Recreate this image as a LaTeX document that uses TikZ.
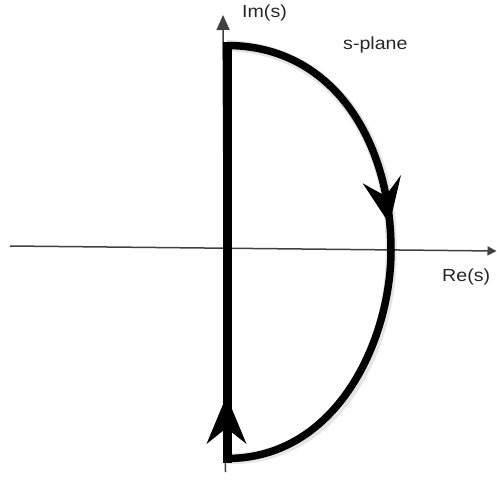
\documentclass[tikz,border=0pt]{standalone}
\usepackage{fontspec}
\setmainfont{Liberation Sans}[FakeStretch=1.12]
\usetikzlibrary{arrows.meta}
\begin{document}
\begin{tikzpicture}[x=1pt,y=-1pt,
  axis/.style={line width=1.5pt, black!75},
  contour/.style={line width=7.5pt, black},
  riser/.style={line width=9pt, black},
  shade/.style={line width=11pt, black, opacity=0.10},
  head/.style={fill=black, draw=none},
  lbl/.style={font=\fontsize{17.5}{20}\selectfont, text=black!85, inner sep=0pt, anchor=base west}]
\useasboundingbox (0,0) rectangle (497,481);
% axes
\coordinate (xl) at (10,246);
\coordinate (xr) at (496.5,251);
\coordinate (yb) at (225.5,472);
\coordinate (yt) at (223,15);
\draw[axis, -{Triangle[length=9pt,width=9pt]}] (xl) -- (xr);
\draw[axis, -{Triangle[length=15pt,width=13pt]}] (yb) -- (yt);
% contour
\coordinate (top) at (227,45.5);
\coordinate (rgt) at (391,250);
\coordinate (bot) at (227,458.5);
\coordinate (rtop) at (227,41.75);
\coordinate (rbot) at (227,462.5);
\draw[shade, shift={(2,3)}] (top) .. controls (332,45.5) and (391,140) .. (rgt)
      .. controls (391,340) and (337,458.5) .. (bot);
\draw[contour] (top) .. controls (332,45.5) and (391,140) .. (rgt)
      .. controls (391,340) and (337,458.5) .. (bot);
\draw[riser] (rtop) -- (rbot);
% arrowheads
\coordinate (at1) at (389.5,224);
\coordinate (al1) at (362.7,183.3);
\coordinate (an1) at (385.5,196);
\coordinate (ar1) at (401,175);
\fill[head] (at1) -- (al1) -- (an1) -- (ar1) -- cycle;
\coordinate (at2) at (226.5,396);
\coordinate (al2) at (206.5,444);
\coordinate (an2) at (226.5,428);
\coordinate (ar2) at (246.5,444);
\fill[head] (at2) -- (al2) -- (an2) -- (ar2) -- cycle;
% labels
\node[lbl] (im) at (242,17.3) {Im(s)};
\node[lbl] (re) at (442,281.7) {Re(s)};
\node[lbl] (sp) at (343,49.3) {s-plane};
\end{tikzpicture}
\end{document}
